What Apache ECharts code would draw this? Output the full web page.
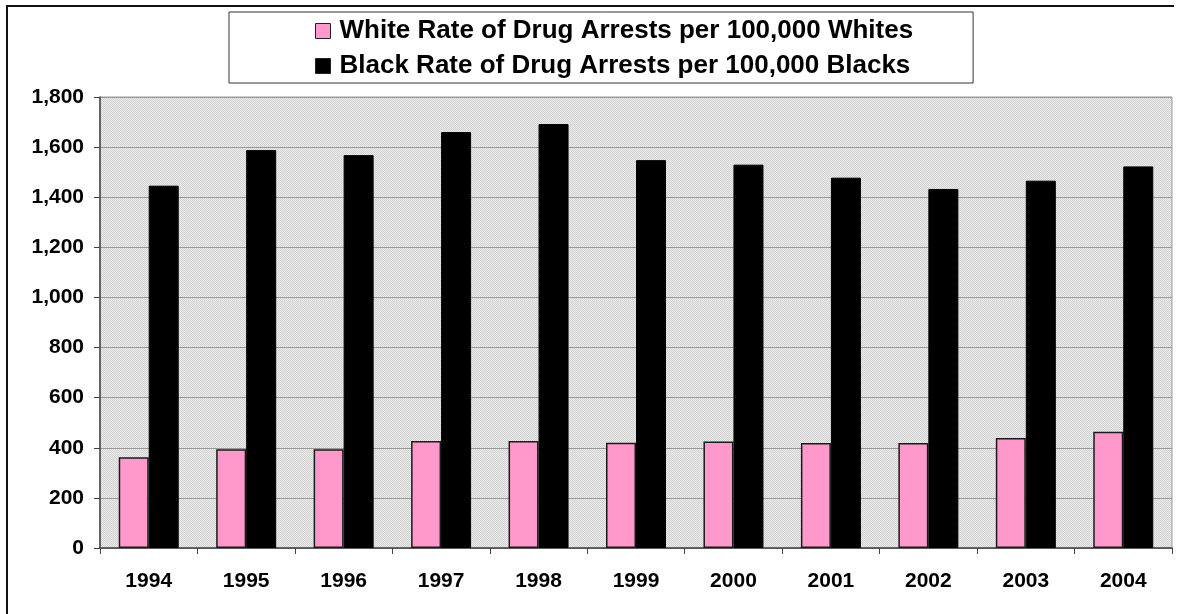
<!DOCTYPE html>
<html>
<head>
<meta charset="utf-8">
<style>
  html, body { margin: 0; padding: 0; background: #fff; }
  #chart { width: 1179px; height: 614px; }
</style>
<script src="https://cdn.jsdelivr.net/npm/echarts@6/dist/echarts.min.js"></script>
</head>
<body>
<div id="chart"></div>
<script>
// Drug arrest rates by race, 1994-2004
const years = ['1994','1995','1996','1997','1998','1999','2000','2001','2002','2003','2004'];
const whiteRates = [362, 394, 394, 427, 427, 420, 425, 419, 419, 439, 464];
const blackRates = [1446, 1588, 1568, 1660, 1692, 1548, 1530, 1478, 1433, 1466, 1523];
const seriesNames = [
  'White Rate of Drug Arrests per 100,000 Whites',
  'Black Rate of Drug Arrests per 100,000 Blacks'
];

// Fine dotted texture for the plot area
function dottedPattern() {
  const c = document.createElement('canvas');
  c.width = 2; c.height = 2;
  const g = c.getContext('2d');
  g.fillStyle = '#eaeaea'; g.fillRect(0, 0, 2, 2);
  g.fillStyle = '#d2d2d2'; g.fillRect(0, 0, 1, 1); g.fillRect(1, 1, 1, 1);
  return c;
}

const font = '"Liberation Sans", Arial, sans-serif';
const chart = echarts.init(document.getElementById('chart'), null, { renderer: 'canvas' });

chart.setOption({
  animation: false,
  backgroundColor: '#fff',
  graphic: [{
    type: 'polyline',
    shape: { points: [[7, 640], [7, 6], [1174, 6]] },
    style: { stroke: '#111', lineWidth: 2, fill: null },
    silent: true
  }],
  legend: {
    orient: 'vertical',
    left: 229,
    top: 12,
    padding: [6, 60, 4, 86],
    itemGap: 9,
    itemWidth: 15,
    itemHeight: 15,
    borderColor: '#333',
    borderWidth: 1,
    backgroundColor: '#fff',
    textStyle: { fontFamily: font, fontWeight: 'bold', fontSize: 26, color: '#000', lineHeight: 24, padding: [0, 0, 0, 4] },
    itemStyle: { borderColor: '#222', borderWidth: 1 },
    data: seriesNames.map(n => ({ name: n, icon: 'rect' }))
  },
  grid: {
    left: 100, right: 7, top: 97, bottom: 66,
    show: true,
    backgroundColor: { image: dottedPattern(), repeat: 'repeat' },
    borderColor: '#999',
    borderWidth: 1
  },
  xAxis: {
    type: 'category',
    data: years,
    axisLine: { lineStyle: { color: '#444', width: 1.5 } },
    axisTick: { show: true, length: 6, lineStyle: { color: '#444' } },
    axisLabel: { fontFamily: font, fontWeight: 'bold', fontSize: 21, color: '#000', margin: 23 }
  },
  yAxis: {
    type: 'value',
    min: 0, max: 1800, interval: 200,
    axisLine: { show: true, lineStyle: { color: '#444', width: 1.5 } },
    axisTick: { show: true, length: 6, lineStyle: { color: '#444' } },
    splitLine: { lineStyle: { color: '#999', width: 1 } },
    axisLabel: {
      fontFamily: font, fontWeight: 'bold', fontSize: 21, color: '#000', margin: 16,
      formatter: v => v.toLocaleString('en-US')
    }
  },
  series: [
    {
      name: seriesNames[0],
      type: 'bar',
      data: whiteRates,
      barWidth: 30,
      barGap: '0%',
      itemStyle: { color: '#ff99cc', borderColor: '#1a1a1a', borderWidth: 1.5 }
    },
    {
      name: seriesNames[1],
      type: 'bar',
      data: blackRates,
      barWidth: 30,
      itemStyle: { color: '#000', borderColor: '#000', borderWidth: 1 }
    }
  ]
});
</script>
</body>
</html>
